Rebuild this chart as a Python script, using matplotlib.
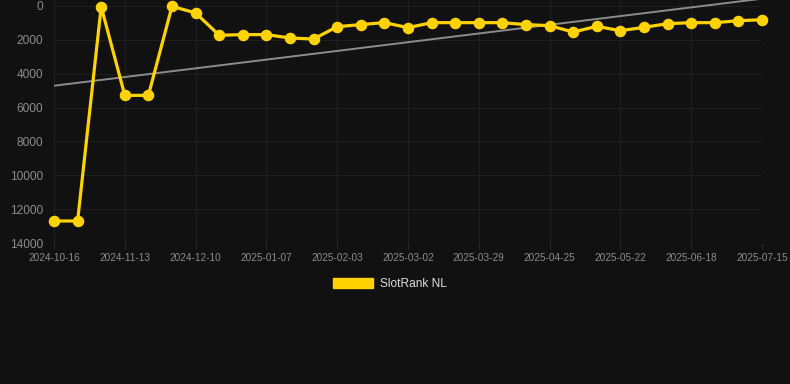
import numpy as np
import matplotlib
matplotlib.use("Agg")
import matplotlib.pyplot as plt
from matplotlib.patches import Patch

# weekly-ish rank values
rank = [12700, 12700, 40, 5280, 5280, 20, 410, 1730, 1690, 1690,
        1890, 1950, 1220, 1100, 980, 1280, 985, 985, 985, 985,
        1100, 1160, 1540, 1200, 1460, 1260, 1045, 985, 985, 870, 810]
tick_labels = ["2024-10-16", "2024-11-13", "2024-12-10", "2025-01-07",
               "2025-02-03", "2025-03-02", "2025-03-29", "2025-04-25",
               "2025-05-22", "2025-06-18", "2025-07-15"]
series_name = "SlotRank NL"

bg = "#111111"
grid_c = "#1f1f1f"
yellow = "#FFD200"
txt = "#8c8c8c"

plt.rcParams['font.family'] = ['Liberation Sans', 'DejaVu Sans']

x = np.arange(len(rank))
fig = plt.figure(figsize=(7.9, 3.84), dpi=100, facecolor=bg)
ax = fig.add_axes([54/790, 1 - 243/384, (762 - 54)/790, 243/384])
ax.set_facecolor(bg)

# trend line (least squares over the series)
k, b = np.polyfit(x, rank, 1)
ax.plot(x, k*x + b, color="#8c8c8c", lw=1.4, zorder=2)

ax.plot(x, rank, color=yellow, lw=2.3, marker='o', ms=7.3,
        zorder=3, clip_on=False)

ax.set_xlim(0, len(rank) - 1)
ax.set_ylim(14000, -354)
ax.set_yticks(np.arange(0, 14001, 2000))
ax.set_xticks(x[::3])
ax.set_xticklabels(tick_labels)

ax.grid(True, color=grid_c, lw=0.8)
ax.set_axisbelow(True)
for s in ax.spines.values():
    s.set_visible(False)
ax.tick_params(axis='y', length=0, pad=8, labelsize=8.6, labelcolor=txt)
ax.tick_params(axis='x', length=4, color="#2a2a2a", pad=3, labelsize=7.2,
               labelcolor=txt)

handle = Patch(facecolor=yellow, edgecolor=yellow)
leg = fig.legend([handle], [series_name], loc='center',
                 bbox_to_anchor=(390/790, 1 - 284/384), frameon=False,
                 fontsize=8.6, handlelength=3.3, handleheight=0.9,
                 handletextpad=0.6, labelcolor="#dddddd")

fig.savefig("out.png", dpi=100, facecolor=bg)
